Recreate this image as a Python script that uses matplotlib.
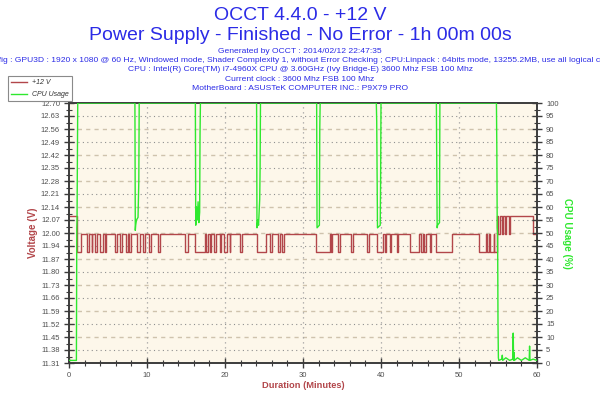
import matplotlib
matplotlib.use("Agg")
import matplotlib.pyplot as plt
from matplotlib.lines import Line2D
from matplotlib.patches import Rectangle
import numpy as np

plt.rcParams['font.family'] = ['Liberation Sans', 'DejaVu Sans']

# ---------------- data ----------------
title_lines = ["OCCT 4.4.0 - +12 V",
               "Power Supply - Finished - No Error - 1h 00m 00s"]
info_lines = ["Generated by OCCT : 2014/02/12 22:47:35",
              "Config : GPU3D : 1920 x 1080 @ 60 Hz, Windowed mode, Shader Complexity 1, without Error Checking ; CPU:Linpack : 64bits mode, 13255.2MB, use all logical cores",
              "CPU : Intel(R) Core(TM) i7-4960X CPU @ 3.60GHz (Ivy Bridge-E) 3600 Mhz FSB 100 Mhz",
              "Current clock : 3600 Mhz FSB 100 Mhz",
              "MotherBoard : ASUSTeK COMPUTER INC.: P9X79 PRO"]

volt_tick_labels = ['11.31', '11.38', '11.45', '11.52', '11.59', '11.66', '11.73',
                    '11.80', '11.87', '11.94', '12.00', '12.07', '12.14', '12.21',
                    '12.28', '12.35', '12.42', '12.49', '12.56', '12.63', '12.70']
volt_min, volt_max = 11.31, 12.70
cpu_ticks = [0, 5, 10, 15, 20, 25, 30, 35, 40, 45, 50, 55, 60, 65, 70, 75, 80, 85, 90, 95, 100]
x_ticks = [0, 10, 20, 30, 40, 50, 60]

# voltage: step series (minute, volts)
volt_minutes = [0.0, 1.0, 1.5, 2.25, 2.6, 2.9, 3.0, 3.35, 3.65, 3.95, 4.3, 4.6, 4.8,
                5.9, 6.2, 6.55, 6.75, 7.25, 7.55, 7.65, 7.95, 8.7, 9.1, 9.55, 9.75,
                10.2, 10.45, 11.45, 11.65, 14.85, 15.2, 16.15, 17.4, 17.6, 17.8,
                18.1, 18.25, 18.6, 18.8, 19.4, 19.55, 19.9, 20.3, 20.6, 20.7, 21.9,
                22.15, 24.05, 25.3, 25.75, 26.05, 26.8, 27.05, 27.35, 27.6, 31.67,
                33.5, 33.65, 33.75, 34.5, 34.7, 36.2, 36.4, 38.2, 38.5, 39.45, 40.3,
                40.55, 40.7, 41.1, 41.25, 42.0, 42.2, 43.7, 44.9, 45.1, 45.4, 45.55,
                45.8, 46.25, 46.4, 47.1, 49.1, 52.6, 53.5, 53.6, 53.8, 53.95, 54.45,
                54.55, 54.9, 55.05, 55.2, 55.45, 55.6, 55.95, 56.05, 56.35, 56.5,
                59.5, 60.0]
volt_values = [12.096, 11.904, 12.0, 11.904, 12.0, 11.904, 12.0, 11.904, 12.0, 11.904, 12.0, 11.904, 12.0,
               11.904, 12.0, 11.904, 12.0, 11.904, 12.0, 11.904, 12.0, 11.904, 12.0, 11.904, 12.0,
               11.904, 12.0, 11.904, 12.0, 11.904, 12.0, 11.904, 12.0, 11.904, 12.0,
               11.904, 12.0, 11.904, 12.0, 11.904, 12.0, 11.904, 12.0, 11.904, 12.0, 11.904,
               12.0, 11.904, 12.0, 11.904, 12.0, 11.904, 12.0, 11.904, 12.0, 11.904,
               12.0, 11.904, 12.0, 11.904, 12.0, 11.904, 12.0, 11.904, 12.0, 11.904, 12.0,
               11.904, 12.0, 11.904, 12.0, 11.904, 12.0, 11.904, 12.0, 11.904, 12.0, 11.904,
               12.0, 11.904, 12.0, 11.904, 12.0, 11.904, 12.0, 11.904, 12.0, 11.904, 12.0,
               11.904, 12.096, 12.0, 12.096, 12.0, 12.096, 12.0, 12.096, 12.0, 12.096,
               12.0, 12.0]

# CPU usage (minute, %)
cpu_minutes = [0.0, 0.95, 1.0, 1.03, 1.08, 1.12,
               8.45, 8.5, 8.55, 8.65, 8.85, 8.95, 9.0,
               16.2, 16.25, 16.35, 16.45, 16.55, 16.65, 16.75, 16.8, 16.85,
               24.05, 24.1, 24.2, 24.3, 24.45, 24.5, 24.55,
               31.75, 31.8, 32.1, 32.15, 32.2,
               39.4, 39.45, 39.55, 39.9, 39.95, 40.0,
               47.1, 47.15, 47.2, 47.25, 47.5, 47.55,
               54.8, 54.85, 54.9, 54.95, 55.0, 55.05, 55.1,
               55.5, 55.55, 55.6, 56.0, 56.5, 56.9, 56.95, 57.0, 57.05, 57.1,
               57.5, 58.0, 58.5, 59.0, 59.05, 59.1, 59.5, 60.0]
cpu_values = [1, 1, 52, 55, 80, 100,
              100, 51, 53, 55, 56, 70, 100,
              100, 53, 60, 55, 62, 54, 58, 88, 100,
              100, 52, 55, 53, 63, 75, 100,
              100, 52, 53, 90, 100,
              100, 93, 52, 53, 70, 100,
              100, 76, 52, 53, 54, 100,
              100, 82, 52, 50, 15, 2, 1,
              1.5, 3, 1, 2, 1, 1.5, 11.5, 1, 4, 1,
              2, 1, 2, 1, 6.5, 1, 1.5, 1]

# ---------------- figure ----------------
W, H = 600, 400
fig = plt.figure(figsize=(6, 4), dpi=100)
fig.patch.set_facecolor('white')

L, R, T, B = 69, 537, 103, 363
ax = fig.add_axes([L / W, 1 - B / H, (R - L) / W, (B - T) / H])
ax.set_facecolor('#fdf7ea')

red = '#b2464a'
green = '#2ee82e'
tick_col = '#505050'
spine_col = '#3c3c3c'

volt_ticks = np.linspace(volt_min, volt_max, len(volt_tick_labels))

# grid
for i, yv in enumerate(volt_ticks[1:-1]):
    if i % 2 == 0:
        ax.axhline(yv, color='#8f8f8f', lw=0.8, ls=(0, (1, 3)), zorder=0.5)
    else:
        ax.axhline(yv, color='#cfc3ad', lw=1.0, ls=(0, (3, 3)), zorder=0.5)
for xv in x_ticks[1:-1]:
    ax.axvline(xv, color='#a0a0a0', lw=0.9, ls=(0, (1, 3)), zorder=0.5)

ax.step(volt_minutes, volt_values, where='post', color=red, lw=1.0, zorder=2)

ax.set_xlim(0, 60)
ax.set_ylim(volt_min, volt_max)
ax.set_yticks(volt_ticks)
ax.set_yticklabels(volt_tick_labels)
ax.set_yticks(volt_ticks[:-1] + (volt_ticks[1] - volt_ticks[0]) / 2, minor=True)
ax.set_xticks(x_ticks)
ax.set_xticklabels([str(v) for v in x_ticks])
ax.set_xticks(np.arange(2, 60, 2), minor=True)
ax.tick_params(axis='both', which='major', direction='inout', length=7, width=1.0,
               color=spine_col, labelsize=5.5, labelcolor=tick_col, pad=3)
ax.tick_params(axis='both', which='minor', direction='inout', length=4, width=0.8,
               color=spine_col)

for s in ax.spines.values():
    s.set_color(spine_col)
    s.set_linewidth(1.2)

ax2 = ax.twinx()
ax2.plot(cpu_minutes, cpu_values, color=green, lw=1.0, zorder=3)
ax2.set_ylim(0, 100)
ax2.set_xlim(0, 60)
ax2.set_yticks(cpu_ticks)
ax2.set_yticklabels([str(v) for v in cpu_ticks])
ax2.set_yticks(np.arange(2.5, 100, 5), minor=True)
ax2.tick_params(axis='y', which='major', direction='inout', length=7, width=1.0,
                color=spine_col, labelsize=5.5, labelcolor=tick_col, pad=3)
ax2.tick_params(axis='y', which='minor', direction='inout', length=4, width=0.8,
                color=spine_col)
for s in ax2.spines.values():
    s.set_color(spine_col)
    s.set_linewidth(1.2)

# axis labels
fig.text(33 / W, 1 - 233 / H, "Voltage (V)", rotation=90, ha='center', va='center',
         color=red, fontsize=7, fontweight='bold')
fig.text(567 / W, 1 - 233 / H, "CPU Usage (%)", rotation=270, ha='center', va='center',
         color=green, fontsize=7, fontweight='bold')
fig.text(303 / W, 1 - 386 / H, "Duration (Minutes)", ha='center', va='center',
         color=red, fontsize=6.7, fontweight='bold')

# titles
title_col = '#2b2be6'
fig.text(0.5, 1 - 15 / H, title_lines[0], ha='center', va='center', color=title_col, fontsize=14)
fig.text(0.5, 1 - 35 / H, title_lines[1], ha='center', va='center', color=title_col, fontsize=14)
for i, line in enumerate(info_lines):
    fig.text(0.5, 1 - (51.5 + 9.2 * i) / H, line, ha='center', va='center',
             color=title_col, fontsize=6.1)

# legend
fig.patches.append(Rectangle((8 / W, 1 - 101 / H), 64 / W, 25 / H, transform=fig.transFigure,
                             facecolor='white', edgecolor='#8a8a8a', lw=0.8, zorder=5))
fig.lines.append(Line2D([11 / W, 27 / W], [1 - 82 / H, 1 - 82 / H], transform=fig.transFigure,
                        color=red, lw=1.0, zorder=6))
fig.lines.append(Line2D([11 / W, 27 / W], [1 - 94 / H, 1 - 94 / H], transform=fig.transFigure,
                        color=green, lw=1.0, zorder=6))
fig.text(32 / W, 1 - 82 / H, "+12 V", ha='left', va='center', fontsize=5.0, style='italic',
         color='#333333', zorder=7)
fig.text(32 / W, 1 - 94 / H, "CPU Usage", ha='left', va='center', fontsize=5.0, style='italic',
         color='#333333', zorder=7)

fig.savefig("out.png", dpi=100)
